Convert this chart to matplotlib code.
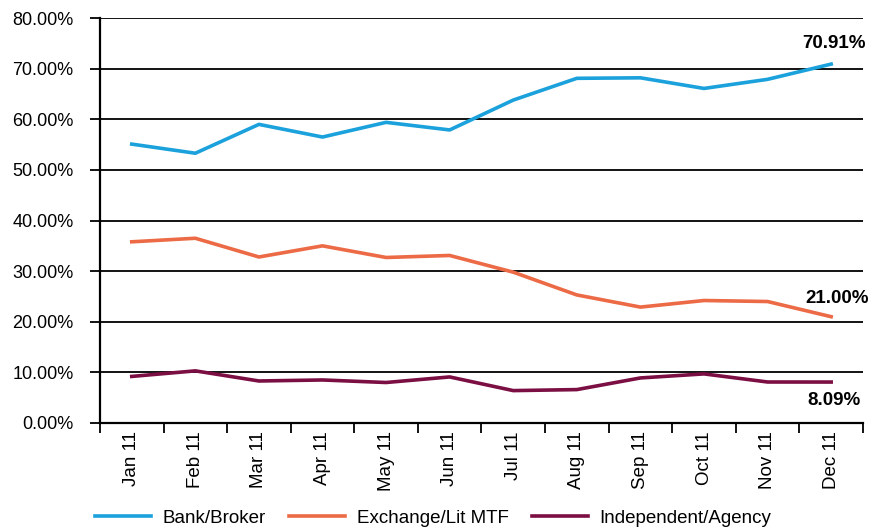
import matplotlib
matplotlib.use("Agg")
import matplotlib.pyplot as plt
import numpy as np
from matplotlib.ticker import FuncFormatter, FixedLocator

plt.rcParams['font.family'] = ['Liberation Sans', 'DejaVu Sans']

months = ["Jan 11", "Feb 11", "Mar 11", "Apr 11", "May 11", "Jun 11",
          "Jul 11", "Aug 11", "Sep 11", "Oct 11", "Nov 11", "Dec 11"]
bank = [55.1, 53.3, 59.0, 56.5, 59.4, 57.9, 63.8, 68.1, 68.2, 66.1, 67.9, 70.91]
exchange = [35.8, 36.5, 32.8, 35.0, 32.7, 33.1, 29.8, 25.3, 22.9, 24.2, 24.0, 21.00]
independent = [9.2, 10.3, 8.3, 8.5, 8.0, 9.1, 6.4, 6.6, 8.9, 9.7, 8.1, 8.09]
series_names = ["Bank/Broker", "Exchange/Lit MTF", "Independent/Agency"]
colors = ["#1BA1DB", "#EC6A45", "#7B0E42"]

FS = 13.5

fig = plt.figure(figsize=(8.73, 5.32), dpi=100)
ax = fig.add_axes([0.1145, 0.2049, 0.874, 0.7611])

x = np.arange(len(months))
for vals, name, c in zip([bank, exchange, independent], series_names, colors):
    ax.plot(x, vals, color=c, lw=2.6, label=name, solid_joinstyle='round')

ax.set_xlim(-0.5, len(months) - 0.5)
ax.set_ylim(0, 80)
ax.set_yticks(np.arange(0, 81, 10))
ax.yaxis.set_major_formatter(FuncFormatter(lambda v, p: f"{v:.2f}%"))
for yv in np.arange(10, 81, 10):
    ax.axhline(yv, color="black", lw=1.3, zorder=0)

ax.set_xticks(x)
ax.set_xticklabels(months, rotation=90)
ax.xaxis.set_minor_locator(FixedLocator(np.arange(-0.5, len(months), 1)))
ax.tick_params(axis='x', which='major', length=0, pad=6, labelsize=FS)
ax.tick_params(axis='x', which='minor', length=7, width=1.3, direction='out')
ax.tick_params(axis='y', length=7, width=1.3, direction='out', labelsize=13, pad=12)

for s in ["top", "right"]:
    ax.spines[s].set_visible(False)
ax.spines["left"].set_linewidth(1.6)
ax.spines["bottom"].set_linewidth(1.6)

ax.annotate(f"{bank[-1]:.2f}%", (x[-1], bank[-1]), xytext=(2, 15), textcoords="offset points",
            ha="center", va="center", fontsize=FS, fontweight="bold")
ax.annotate(f"{exchange[-1]:.2f}%", (x[-1], exchange[-1]), xytext=(4, 13), textcoords="offset points",
            ha="center", va="center", fontsize=FS, fontweight="bold")
ax.annotate(f"{independent[-1]:.2f}%", (x[-1], independent[-1]), xytext=(2, -13), textcoords="offset points",
            ha="center", va="center", fontsize=FS, fontweight="bold")

fig.legend(loc="lower center", bbox_to_anchor=(0.496, -0.022), ncol=3, frameon=False,
           fontsize=FS, handlelength=3.0, columnspacing=1.25, handletextpad=0.6)

fig.savefig("out.png", dpi=100)
